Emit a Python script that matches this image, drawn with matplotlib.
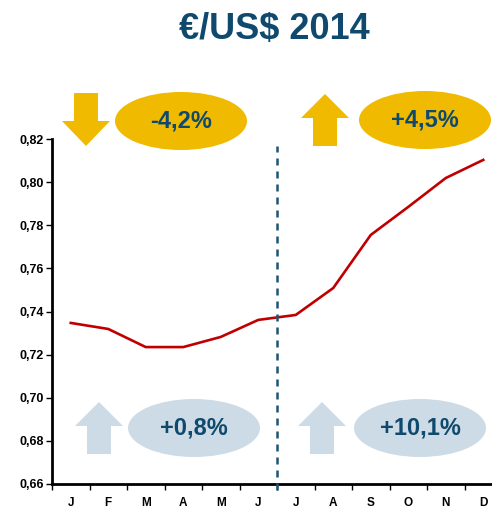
import matplotlib
matplotlib.use("Agg")
import matplotlib.pyplot as plt
from matplotlib.patches import Ellipse, Polygon

plt.rcParams['font.family'] = ['Liberation Sans', 'DejaVu Sans']

# data
months = ['J', 'F', 'M', 'A', 'M', 'J', 'J', 'A', 'S', 'O', 'N', 'D']
eur_usd = [0.7347, 0.7319, 0.7235, 0.7235, 0.7282, 0.7361,
           0.7384, 0.7509, 0.7755, 0.7885, 0.8019, 0.8103]
yticks = [0.66, 0.68, 0.70, 0.72, 0.74, 0.76, 0.78, 0.80, 0.82]
badges = ['-4,2%', '+4,5%', '+0,8%', '+10,1%']

W, H = 492, 508
YELLOW = '#F0BA00'
LIGHT = '#CCDBE5'
NAVY = '#0F4A6E'
RED = '#C00000'

fig = plt.figure(figsize=(W / 100, H / 100), dpi=100)

# main axes (runs past the right edge like the original slide)
ax = fig.add_axes([52 / W, (H - 484) / H, 450 / W, 345 / H])
x = list(range(len(months)))
ax.plot(x, eur_usd, color=RED, lw=1.9, solid_joinstyle='round')
ax.set_xlim(-0.5, 11.5)
ax.set_ylim(0.66, 0.82)
ax.set_yticks(yticks)
ax.set_yticklabels([('%.2f' % v).replace('.', ',') for v in yticks],
                   fontsize=9, fontweight='bold')
ax.set_xticks(x)
ax.set_xticklabels(months, fontsize=8.5, fontweight='bold')
ax.set_xticks([i - 0.5 for i in range(13)], minor=True)
ax.tick_params(axis='x', which='major', length=0, pad=9)
ax.tick_params(axis='x', which='minor', length=4, width=1, direction='out')
ax.tick_params(axis='y', length=4, width=1, direction='out', pad=2)
for s in ['top', 'right']:
    ax.spines[s].set_visible(False)
for s in ['left', 'bottom']:
    ax.spines[s].set_linewidth(2)

# half-year separator
ax.plot([5.5, 5.5], [0.6572, 0.8168], color='#1F5475', lw=1.8,
        ls=(0, (2.8, 2.4)), clip_on=False, zorder=3)

# overlay in pixel coords for arrows and badges
ov = fig.add_axes([0, 0, 1, 1])
ov.set_xlim(0, W)
ov.set_ylim(H, 0)
ov.axis('off')
ov.patch.set_alpha(0)

ov.text(274, 30, '€/US$ 2014', ha='center', va='center', fontsize=26,
        fontweight='bold', color=NAVY)


def up_arrow(cx, top, bottom, color):
    pts = [(cx, top), (cx + 24, top + 24), (cx + 12, top + 24), (cx + 12, bottom),
           (cx - 12, bottom), (cx - 12, top + 24), (cx - 24, top + 24)]
    ov.add_patch(Polygon(pts, closed=True, color=color, lw=0))


def down_arrow(cx, top, bottom, color):
    pts = [(cx, bottom), (cx + 24, bottom - 25), (cx + 12, bottom - 25), (cx + 12, top),
           (cx - 12, top), (cx - 12, bottom - 25), (cx - 24, bottom - 25)]
    ov.add_patch(Polygon(pts, closed=True, color=color, lw=0))


down_arrow(86, 93, 146, YELLOW)
up_arrow(325, 94, 146, YELLOW)
up_arrow(99, 402, 454, LIGHT)
up_arrow(322, 402, 454, LIGHT)

spots = [(181, 121, YELLOW), (425, 120, YELLOW), (194, 428, LIGHT), (420, 428, LIGHT)]
for (cx, cy, col), label in zip(spots, badges):
    ov.add_patch(Ellipse((cx, cy), 132, 58, color=col, lw=0))
    ov.text(cx, cy, label, ha='center', va='center', fontsize=17,
            fontweight='bold', color=NAVY)

fig.savefig('out.png', dpi=100)
